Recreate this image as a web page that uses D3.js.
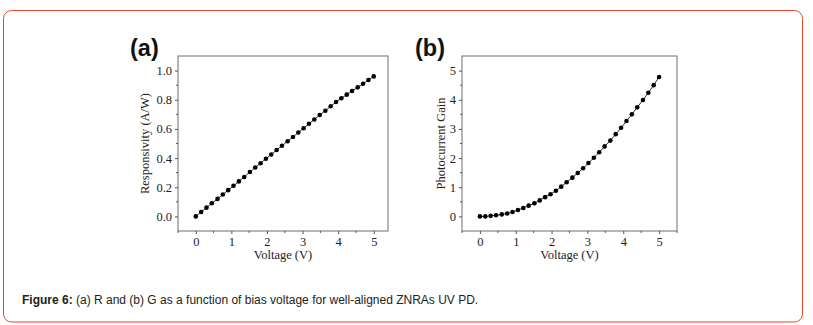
<!DOCTYPE html>
<html>
<head>
<meta charset="utf-8">
<script src="https://d3js.org/d3.v7.min.js"></script>
<style>
  body { margin: 0; background: #fff; }
  svg { display: block; }
</style>
</head>
<body>
<svg id="fig" width="813" height="325"></svg>
<script>
// bias voltage (V), same sampling in both panels
const voltage = [0, 0.15, 0.30, 0.45, 0.61, 0.76, 0.91, 1.06, 1.21, 1.36, 1.52, 1.67,
  1.82, 1.97, 2.12, 2.27, 2.42, 2.58, 2.73, 2.88, 3.03, 3.18, 3.33, 3.48, 3.64, 3.79,
  3.94, 4.09, 4.24, 4.39, 4.55, 4.70, 4.85, 5.0];
// (a) responsivity (A/W)
const responsivity = [0, 0.03, 0.06, 0.09, 0.12, 0.15, 0.18, 0.21, 0.24, 0.27, 0.305, 0.335,
  0.365, 0.395, 0.425, 0.455, 0.485, 0.515, 0.545, 0.575, 0.605, 0.635, 0.665, 0.695, 0.725, 0.755,
  0.785, 0.81, 0.835, 0.86, 0.885, 0.91, 0.935, 0.96];
// (b) photocurrent gain
const gain = [0, 0.0, 0.02, 0.04, 0.07, 0.10, 0.15, 0.22, 0.29, 0.37, 0.45, 0.55,
  0.66, 0.76, 0.88, 1.02, 1.17, 1.33, 1.49, 1.65, 1.83, 2.01, 2.20, 2.40, 2.60, 2.82,
  3.04, 3.27, 3.50, 3.74, 3.99, 4.24, 4.50, 4.78];

const xTicks = [0, 1, 2, 3, 4, 5];
const respTicks = [0, 0.2, 0.4, 0.6, 0.8, 1.0];
const gainTicks = [0, 1, 2, 3, 4, 5];

const svg = d3.select("#fig");

// outer rounded box
svg.append("rect")
  .attr("x", 3.5).attr("y", 10.5)
  .attr("width", 799).attr("height", 311.5)
  .attr("rx", 8)
  .attr("fill", "none")
  .attr("stroke", "#e9472d")
  .attr("stroke-width", 1);

function panel(opt) {
  const x = d3.scaleLinear().domain(opt.xDomain).range([opt.left, opt.right]);
  const y = d3.scaleLinear().domain(opt.yDomain).range([opt.bottom, opt.top]);
  const g = svg.append("g");

  // frame
  g.append("rect")
    .attr("x", opt.left).attr("y", opt.top)
    .attr("width", opt.right - opt.left).attr("height", opt.bottom - opt.top)
    .attr("fill", "none").attr("stroke", "#6e6e6e").attr("stroke-width", 1);

  // minor ticks
  const xMinor = d3.range(-0.5, opt.xDomain[1] + 0.01, 0.5).filter(v => v % 1 !== 0);
  g.selectAll(".xm").data(xMinor).join("line")
    .attr("x1", d => x(d)).attr("x2", d => x(d))
    .attr("y1", opt.bottom).attr("y2", opt.bottom + 2)
    .attr("stroke", "#555");
  const yMinor = opt.yMinor.filter(v => v > opt.yDomain[0] && v < opt.yDomain[1]);
  g.selectAll(".ym").data(yMinor).join("line")
    .attr("x1", opt.left).attr("x2", opt.left - 2)
    .attr("y1", d => y(d)).attr("y2", d => y(d))
    .attr("stroke", "#555");

  // axes
  const xAxis = g.append("g").attr("transform", `translate(0,${opt.bottom})`)
    .call(d3.axisBottom(x).tickValues(xTicks).tickSize(3).tickPadding(3).tickFormat(d3.format("d")));
  const yAxis = g.append("g").attr("transform", `translate(${opt.left},0)`)
    .call(d3.axisLeft(y).tickValues(opt.yTicks).tickSize(3).tickPadding(3).tickFormat(opt.yFormat));
  [xAxis, yAxis].forEach(a => {
    a.select(".domain").remove();
    a.selectAll("line").attr("stroke", "#555");
    a.selectAll("text")
      .attr("fill", "#222")
      .style("font-family", "'Liberation Serif', 'Times New Roman', serif")
      .style("font-size", "12.5px");
  });

  // data line + markers
  const pts = voltage.map((v, i) => [v, opt.values[i]]);
  g.append("path")
    .datum(pts)
    .attr("d", d3.line().x(d => x(d[0])).y(d => y(d[1])))
    .attr("fill", "none").attr("stroke", "#333").attr("stroke-width", 1);
  g.selectAll(".pt").data(pts).join("circle")
    .attr("cx", d => x(d[0])).attr("cy", d => y(d[1]))
    .attr("r", 2.3).attr("fill", "#000");

  // axis titles
  g.append("text")
    .attr("x", (opt.left + opt.right) / 2).attr("y", opt.bottom + 28)
    .attr("text-anchor", "middle")
    .style("font-family", "'Liberation Serif', 'Times New Roman', serif")
    .style("font-size", "12.5px").attr("fill", "#222")
    .text("Voltage (V)");
  g.append("text")
    .attr("transform", `translate(${opt.yTitleX},${(opt.top + opt.bottom) / 2}) rotate(-90)`)
    .attr("text-anchor", "middle")
    .style("font-family", "'Liberation Serif', 'Times New Roman', serif")
    .style("font-size", "12.5px").attr("fill", "#222")
    .text(opt.yTitle);

  // panel letter
  g.append("text")
    .attr("x", opt.letterX).attr("y", 56)
    .style("font-family", "'Liberation Sans', Arial, sans-serif")
    .style("font-weight", "bold").style("font-size", "23.5px").attr("fill", "#111")
    .text(opt.letter);
}

panel({
  letter: "(a)", letterX: 130,
  left: 178, right: 388, top: 56, bottom: 231,
  xDomain: [-0.5, 5.4], yDomain: [-0.1, 1.1],
  yTicks: respTicks, yMinor: d3.range(-0.1, 1.11, 0.2).map(v => +v.toFixed(2)),
  yFormat: d3.format(".1f"),
  values: responsivity,
  yTitle: "Responsivity (A/W)", yTitleX: 149
});

panel({
  letter: "(b)", letterX: 415,
  left: 462, right: 677, top: 56, bottom: 231,
  xDomain: [-0.5, 5.5], yDomain: [-0.5, 5.5],
  yTicks: gainTicks, yMinor: d3.range(-0.5, 5.51, 1),
  yFormat: d3.format("d"),
  values: gain,
  yTitle: "Photocurrent Gain", yTitleX: 445
});

// caption
const cap = svg.append("text")
  .attr("x", 22).attr("y", 304)
  .style("font-family", "'Liberation Sans', Arial, sans-serif")
  .style("font-size", "12px").attr("fill", "#222");
cap.append("tspan").style("font-weight", "bold").text("Figure 6:");
cap.append("tspan").text(" (a) R and (b) G as a function of bias voltage for well-aligned ZNRAs UV PD.");
</script>
</body>
</html>
